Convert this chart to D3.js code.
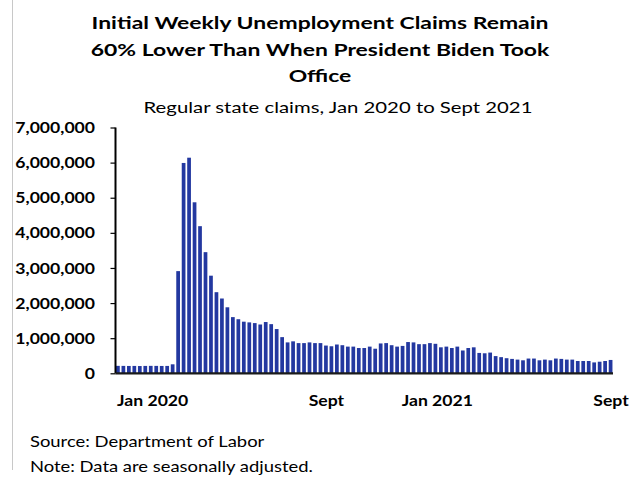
<!DOCTYPE html>
<html>
<head>
<meta charset="utf-8">
<script src="https://cdn.jsdelivr.net/npm/d3@7"></script>
<style>
  body { margin: 0; background: #fff; }
  text { font-family: Lato, "Open Sans", sans-serif; fill: #000; }
</style>
</head>
<body>
<script>
// weekly regular state initial claims, week ending dates
var firstWeek = new Date(2020, 0, 4);
var claims = [
  212000, 211000, 209000, 210000, 207000, 210000, 212000, 211000, 209000, 210000,
  256000, 2910000, 5990000, 6140000, 4870000, 4190000, 3450000, 2780000, 2310000, 2130000,
  1880000, 1600000, 1540000, 1470000, 1450000, 1430000, 1390000, 1460000, 1400000, 1260000,
  1030000, 880000, 910000, 860000, 860000, 880000, 860000, 860000, 790000, 770000,
  820000, 800000, 760000, 760000, 720000, 720000, 760000, 700000, 850000, 860000,
  800000, 760000, 780000, 890000, 880000, 830000, 830000, 860000, 840000, 740000,
  760000, 720000, 760000, 650000, 720000, 740000, 580000, 570000, 590000, 490000,
  460000, 430000, 410000, 390000, 370000, 420000, 420000, 370000, 390000, 370000,
  420000, 410000, 390000, 390000, 350000, 350000, 350000, 310000, 330000, 350000,
  380000
];
var weeks = claims.map(function(d, i){ return d3.timeWeek.offset(firstWeek, i); });

var yTicks = [0, 1000000, 2000000, 3000000, 4000000, 5000000, 6000000, 7000000];
var xTickWeeks = [0, 35, 52, 87];
var xTickLabels = ["Jan 2020", "Sept", "Jan 2021", "Sept"];

var titleLines = ["Initial Weekly Unemployment Claims Remain",
                  "60% Lower Than When President Biden Took",
                  "Office"];
var subtitle = "Regular state claims, Jan 2020 to Sept 2021";
var notes = ["Source: Department of Labor", "Note: Data are seasonally adjusted."];

var totalWidth = 644, totalHeight = 477;
var margin = {top: 127.5, left: 115.5, right: 31, bottom: 103.7};
var width = totalWidth - margin.left - margin.right;
var height = totalHeight - margin.top - margin.bottom;

// the original text is wider than Lato at the same height
function stretch(sel, sx) {
  sel.each(function(){
    var len = this.getComputedTextLength();
    d3.select(this).attr("textLength", len * sx).attr("lengthAdjust", "spacingAndGlyphs");
  });
}

var svg = d3.select("body").append("svg")
    .attr("width", totalWidth)
    .attr("height", totalHeight);

// thin border on the left
svg.append("line")
    .attr("x1", 12.5).attr("x2", 12.5)
    .attr("y1", 0).attr("y2", 470)
    .attr("stroke", "#c8c8c8").attr("stroke-width", 1);

svg.selectAll(".title")
    .data(titleLines)
    .enter().append("text")
    .attr("class", "title")
    .attr("x", 320)
    .attr("y", function(d, i){ return 29 + i * 26.5; })
    .attr("text-anchor", "middle")
    .style("font-weight", "bold")
    .style("font-size", "17.5px")
    .text(function(d){ return d; })
    .call(stretch, 1.31);

svg.append("text")
    .attr("x", 338)
    .attr("y", 113)
    .attr("text-anchor", "middle")
    .style("font-size", "16px")
    .text(subtitle)
    .call(stretch, 1.27);

var g = svg.append("g")
    .attr("transform", "translate(" + margin.left + "," + margin.top + ")");

var xScale = d3.scaleBand()
    .domain(weeks)
    .range([0, width])
    .paddingInner(0.32)
    .paddingOuter(0.1);

var yScale = d3.scaleLinear()
    .domain([0, 7000000])
    .range([height, 0]);

g.selectAll(".bar")
    .data(claims)
    .enter().append("rect")
    .attr("class", "bar")
    .attr("x", function(d, i){ return xScale(weeks[i]); })
    .attr("y", function(d){ return yScale(d); })
    .attr("width", xScale.bandwidth())
    .attr("height", function(d){ return height - yScale(d); })
    .attr("fill", "#2338a0");

var yAxis = d3.axisLeft(yScale)
    .tickValues(yTicks)
    .tickSize(5)
    .tickPadding(15.5)
    .tickFormat(d3.format(","));

var yAxisg = g.append("g").call(yAxis);
yAxisg.select(".domain").attr("stroke", "#000").attr("stroke-width", 2)
    .attr("d", "M0," + height + "V0");
yAxisg.selectAll(".tick line").attr("stroke", "#000").attr("stroke-width", 1.2);
yAxisg.selectAll(".tick text")
    .style("font-family", "Lato, sans-serif")
    .style("font-size", "16px")
    .style("font-weight", "bold")
    .attr("fill", "#000")
    .call(stretch, 1.1);

// baseline
g.append("line")
    .attr("x1", 0).attr("x2", width)
    .attr("y1", height).attr("y2", height)
    .attr("stroke", "#1a1a1a").attr("stroke-width", 2.2);

// category labels start at the first week of the month
g.selectAll(".xlabel")
    .data(xTickWeeks)
    .enter().append("text")
    .attr("class", "xlabel")
    .attr("x", function(d){ return xScale(weeks[d]) + 1; })
    .attr("y", height + 33)
    .style("font-weight", "bold")
    .style("font-size", "16px")
    .text(function(d, i){ return xTickLabels[i]; })
    .call(stretch, 1.1);

svg.selectAll(".note")
    .data(notes)
    .enter().append("text")
    .attr("class", "note")
    .attr("x", 30)
    .attr("y", function(d, i){ return 447 + i * 25; })
    .style("font-size", "16px")
    .text(function(d){ return d; })
    .call(stretch, 1.15);
</script>
</body>
</html>
